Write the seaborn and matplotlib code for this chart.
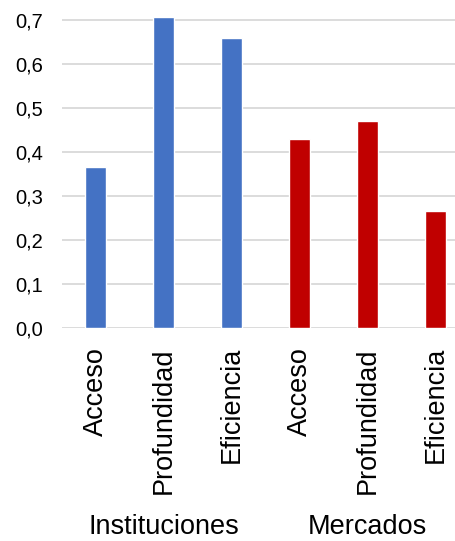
import matplotlib
matplotlib.use("Agg")
import matplotlib.pyplot as plt
import matplotlib.transforms as mtransforms
from matplotlib.ticker import FuncFormatter, MultipleLocator
import seaborn as sns
import pandas as pd

grupos = ["Instituciones", "Instituciones", "Instituciones", "Mercados", "Mercados", "Mercados"]
subcategorias = ["Acceso", "Profundidad", "Eficiencia", "Acceso", "Profundidad", "Eficiencia"]
valores = [0.365, 0.707, 0.658, 0.430, 0.470, 0.265]
colores = {"Instituciones": "#4472C4", "Mercados": "#C00000"}

df = pd.DataFrame({
    "grupo": grupos,
    "sub": subcategorias,
    "valor": valores,
})
df["clave"] = df["grupo"] + "|" + df["sub"]

sns.set_theme(style="white")
plt.rcParams["font.family"] = ["Liberation Sans", "DejaVu Sans"]

W, H = 456, 541
fig = plt.figure(figsize=(W / 100, H / 100), dpi=100)
y0_px = 328.0
px_per_unit = 440.0
ytop = 0.745
ax = fig.add_axes([61.7 / W, (H - y0_px) / H, 408 / W, ytop * px_per_unit / H])

sns.barplot(data=df, x="clave", y="valor", hue="grupo", palette=colores,
            dodge=False, width=0.31, ax=ax, legend=False, saturation=1)

ax.set_ylim(0, ytop)
ax.set_xlim(-0.5, 5.5)
ax.yaxis.set_major_locator(MultipleLocator(0.1))
ax.yaxis.set_major_formatter(FuncFormatter(lambda v, p: f"{v:.1f}".replace(".", ",")))
ax.grid(axis="y", color="#D9D9D9", linewidth=1.3)
ax.set_axisbelow(True)
for s in ax.spines.values():
    s.set_visible(False)
ax.set_xlabel("")
ax.set_ylabel("")
ax.set_xticks(range(6))
ax.set_xticklabels(subcategorias, rotation=90, fontsize=19.5, color="black")
ax.tick_params(axis="x", length=0, pad=13.7)
ax.tick_params(axis="y", length=0, pad=13.7, labelsize=14.5, labelcolor="black")
for lbl in ax.get_xticklabels():
    lbl.set_va("top")

trans = mtransforms.blended_transform_factory(ax.transData, fig.transFigure)
for i, g in enumerate(["Instituciones", "Mercados"]):
    idx = [k for k, gg in enumerate(grupos) if gg == g]
    cx = sum(idx) / len(idx)
    ax.text(cx, 0.5 / H, g, transform=trans, ha="center", va="bottom",
            fontsize=19.5, color="black")

fig.savefig("out.png", dpi=100)
